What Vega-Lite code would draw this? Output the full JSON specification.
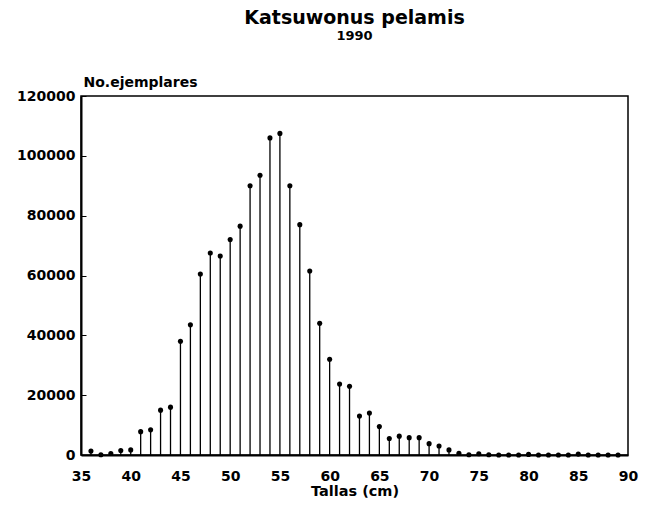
{
  "$schema": "https://vega.github.io/schema/vega-lite/v6.json",
  "width": 547,
  "height": 359,
  "autosize": "none",
  "padding": {"left": 81, "top": 96, "right": 17, "bottom": 54},
  "background": "white",
  "title": {
    "text": "Katsuwonus pelamis",
    "subtitle": "1990",
    "font": "DejaVu Sans",
    "fontSize": 19,
    "fontWeight": "bold",
    "subtitleFont": "DejaVu Sans",
    "subtitleFontSize": 13,
    "subtitleFontWeight": "bold",
    "subtitleColor": "black",
    "subtitlePadding": 2,
    "color": "black",
    "anchor": "middle",
    "frame": "group",
    "offset": 32
  },
  "config": {
    "view": {"stroke": "black", "strokeWidth": 1.5},
    "axis": {
      "labelFont": "DejaVu Sans",
      "labelFontWeight": "bold",
      "labelFontSize": 14,
      "labelColor": "black",
      "titleFont": "DejaVu Sans",
      "titleFontWeight": "bold",
      "titleColor": "black",
      "domainColor": "black",
      "domainWidth": 2,
      "tickColor": "black",
      "grid": false
    }
  },
  "data": {
    "values": [
      {"talla": 36, "n": 1300}, {"talla": 37, "n": 100}, {"talla": 38, "n": 500},
      {"talla": 39, "n": 1500}, {"talla": 40, "n": 1700}, {"talla": 41, "n": 7800},
      {"talla": 42, "n": 8400}, {"talla": 43, "n": 15000}, {"talla": 44, "n": 16000},
      {"talla": 45, "n": 38000}, {"talla": 46, "n": 43500}, {"talla": 47, "n": 60500},
      {"talla": 48, "n": 67500}, {"talla": 49, "n": 66500}, {"talla": 50, "n": 72000},
      {"talla": 51, "n": 76500}, {"talla": 52, "n": 90000}, {"talla": 53, "n": 93500},
      {"talla": 54, "n": 106000}, {"talla": 55, "n": 107500}, {"talla": 56, "n": 90000},
      {"talla": 57, "n": 77000}, {"talla": 58, "n": 61500}, {"talla": 59, "n": 44000},
      {"talla": 60, "n": 32000}, {"talla": 61, "n": 23700}, {"talla": 62, "n": 23000},
      {"talla": 63, "n": 13000}, {"talla": 64, "n": 14000}, {"talla": 65, "n": 9500},
      {"talla": 66, "n": 5500}, {"talla": 67, "n": 6300}, {"talla": 68, "n": 5800},
      {"talla": 69, "n": 5800}, {"talla": 70, "n": 3800}, {"talla": 71, "n": 3000},
      {"talla": 72, "n": 1700}, {"talla": 73, "n": 600}, {"talla": 74, "n": 100},
      {"talla": 75, "n": 400}, {"talla": 76, "n": 100}, {"talla": 77, "n": 0},
      {"talla": 78, "n": 0}, {"talla": 79, "n": 0}, {"talla": 80, "n": 200},
      {"talla": 81, "n": 0}, {"talla": 82, "n": 0}, {"talla": 83, "n": 0},
      {"talla": 84, "n": 0}, {"talla": 85, "n": 300}, {"talla": 86, "n": 0},
      {"talla": 87, "n": 0}, {"talla": 88, "n": 0}, {"talla": 89, "n": 0}
    ]
  },
  "encoding": {
    "x": {
      "field": "talla",
      "type": "quantitative",
      "scale": {"domain": [35, 90], "nice": false, "zero": false},
      "axis": {
        "title": "Tallas (cm)",
        "titleFontSize": 14.5,
        "titlePadding": 1,
        "values": [35, 40, 45, 50, 55, 60, 65, 70, 75, 80, 85, 90],
        "ticks": false,
        "labelPadding": 14,
        "labelFlush": false
      }
    },
    "y": {
      "field": "n",
      "type": "quantitative",
      "scale": {"domain": [0, 120000], "nice": false},
      "axis": {
        "title": "No.ejemplares",
        "titleFontSize": 14,
        "titleAngle": 0,
        "titleAlign": "left",
        "titleBaseline": "alphabetic",
        "titleX": 2,
        "titleY": -10,
        "values": [0, 20000, 40000, 60000, 80000, 100000, 120000],
        "format": "d",
        "tickSize": -5,
        "labelPadding": 11
      }
    }
  },
  "layer": [
    {
      "mark": {"type": "rule", "color": "black", "strokeWidth": 1.3},
      "encoding": {"y2": {"datum": 0}}
    },
    {
      "mark": {"type": "point", "filled": true, "color": "black", "size": 26, "opacity": 1}
    }
  ]
}
